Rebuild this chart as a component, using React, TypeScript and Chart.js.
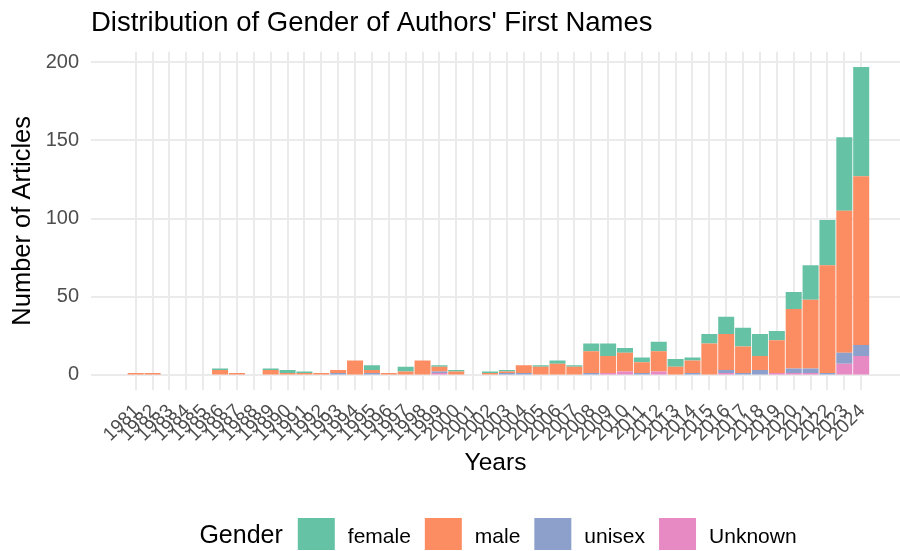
import React, { useEffect, useRef } from "react";
import { Chart, registerables } from "chart.js";

Chart.register(...registerables);

const FONT = "'Liberation Sans', Arial, sans-serif";

const years = [
  1981, 1982, 1983, 1984, 1985, 1986, 1987, 1988, 1989, 1990, 1991, 1992, 1993, 1994, 1995,
  1996, 1997, 1998, 1999, 2000, 2001, 2002, 2003, 2004, 2005, 2006, 2007, 2008, 2009, 2010,
  2011, 2012, 2013, 2014, 2015, 2016, 2017, 2018, 2019, 2020, 2021, 2022, 2023, 2024,
];
const female = [
  0, 0, 0, 0, 0, 1, 0, 0, 1, 2, 1, 0, 0, 0, 3,
  0, 3, 0, 1, 1, 0, 1, 1, 0, 1, 2, 1, 5, 8, 3,
  3, 6, 5, 2, 6, 11, 12, 14, 6, 11, 22, 29, 47, 70,
];
const male = [
  1, 1, 0, 0, 0, 3, 1, 0, 3, 1, 1, 1, 2, 9, 2,
  1, 2, 9, 3, 2, 0, 1, 1, 5, 5, 7, 5, 14, 11, 12,
  7, 13, 5, 8, 20, 23, 17, 9, 21, 38, 44, 69, 91, 108,
];
const unisex = [
  0, 0, 0, 0, 0, 0, 0, 0, 0, 0, 0, 0, 1, 0, 1,
  0, 0, 0, 1, 0, 0, 0, 1, 1, 0, 0, 0, 1, 0, 0,
  1, 0, 0, 1, 0, 2, 1, 3, 0, 3, 3, 1, 7, 7,
];
const unknown = [
  0, 0, 0, 0, 0, 0, 0, 0, 0, 0, 0, 0, 0, 0, 0,
  0, 0, 0, 1, 0, 0, 0, 0, 0, 0, 0, 0, 0, 1, 2,
  0, 2, 0, 0, 0, 1, 0, 0, 1, 1, 1, 0, 7, 12,
];
const yTicks = [0, 50, 100, 150, 200];

const chartTitle = "Distribution of Gender of Authors' First Names";
const xTitle = "Years";
const yTitle = "Number of Articles";
const legendTitle = "Gender";

const COLORS: Record<string, string> = {
  female: "#66C2A5",
  male: "#FC8D62",
  unisex: "#8DA0CB",
  Unknown: "#E78AC3",
};

const legendPlugin = {
  id: "ggLegend",
  afterDraw(chart: any) {
    const ctx = chart.ctx as CanvasRenderingContext2D;
    const items = chart.data.datasets.slice().reverse();
    ctx.save();
    ctx.font = `25px ${FONT}`;
    const titleW = ctx.measureText(legendTitle).width;
    ctx.font = `21px ${FONT}`;
    const widths = items.map((d: any) => ctx.measureText(d.label).width);
    const boxW = 37;
    const boxH = 32;
    const gapTitle = 15;
    const gapBox = 13;
    const gapItem = 14;
    let total = titleW + gapTitle;
    widths.forEach((w: number, i: number) => {
      total += boxW + gapBox + w + (i < widths.length - 1 ? gapItem : 0);
    });
    let x = 498 - total / 2;
    const boxTop = 518;
    ctx.textBaseline = "middle";
    ctx.textAlign = "left";
    ctx.fillStyle = "#000000";
    ctx.font = `25px ${FONT}`;
    ctx.fillText(legendTitle, x, 536.5);
    x += titleW + gapTitle;
    ctx.font = `21px ${FONT}`;
    items.forEach((d: any, i: number) => {
      ctx.fillStyle = d.backgroundColor;
      ctx.fillRect(x, boxTop, boxW, boxH);
      x += boxW + gapBox;
      ctx.fillStyle = "#000000";
      ctx.fillText(d.label, x, 537);
      x += widths[i] + gapItem;
    });
    ctx.restore();
  },
};

export default function App() {
  const ref = useRef<HTMLCanvasElement>(null);

  useEffect(() => {
    const canvas = ref.current;
    if (!canvas) return;
    const mk = (label: string, data: number[]) => ({
      label,
      data: data.map((v) => (v === 0 ? null : v)),
      backgroundColor: COLORS[label],
      borderWidth: 0,
      categoryPercentage: 1,
      barPercentage: 0.95,
    });
    const chart = new Chart(canvas, {
      type: "bar",
      data: {
        labels: years,
        datasets: [
          mk("Unknown", unknown),
          mk("unisex", unisex),
          mk("male", male),
          mk("female", female),
        ],
      },
      options: {
        responsive: false,
        animation: false,
        devicePixelRatio: 1,
        events: [],
        layout: { padding: { top: 0, left: 0, right: 0, bottom: 61 } },
        plugins: {
          legend: { display: false },
          tooltip: { enabled: false },
          title: {
            display: true,
            text: chartTitle,
            align: "start",
            fullSize: false,
            color: "#000000",
            font: { family: FONT, size: 27.5, weight: "normal" },
            padding: { top: 6.5, bottom: 12.2 },
          },
        },
        scales: {
          x: {
            type: "linear",
            stacked: true,
            offset: false,
            bounds: "data",
            min: 1978.35,
            max: 2026.3,
            afterBuildTicks: (s: any) => {
              s.ticks = years.map((v) => ({ value: v }));
            },
            afterFit: (s: any) => {
              s.height = 100;
            },
            grid: { color: "#EBEBEB", lineWidth: 2, drawTicks: false, offset: false },
            border: { display: false },
            ticks: {
              autoSkip: false,
              minRotation: 45,
              maxRotation: 45,
              padding: 10,
              labelOffset: 1,
              color: "#4D4D4D",
              font: { family: FONT, size: 19 },
              callback: (v: any) => String(v),
            },
            title: {
              display: true,
              text: xTitle,
              color: "#000000",
              font: { family: FONT, size: 24.5 },
              padding: { top: 0, bottom: 12 },
            },
          },
          y: {
            type: "linear",
            stacked: true,
            bounds: "data",
            min: -9.85,
            max: 206.85,
            afterBuildTicks: (s: any) => {
              // the zero tick is nudged by a negligible amount so Chart.js does not
              // shorten the bottom bar segments by half the gridline width
              s.ticks = yTicks.map((v) => ({ value: v === 0 ? 1e-7 : v }));
            },
            afterFit: (s: any) => {
              s.width = 91;
            },
            grid: { color: "#EBEBEB", lineWidth: 2, drawTicks: false },
            border: { display: false },
            ticks: {
              padding: 12,
              color: "#4D4D4D",
              font: { family: FONT, size: 20 },
              callback: (v: any) => String(Math.round(Number(v))),
            },
            title: {
              display: true,
              text: yTitle,
              color: "#000000",
              font: { family: FONT, size: 25.5 },
              padding: { top: 8, bottom: 0 },
            },
          },
        },
      },
      plugins: [legendPlugin],
    } as any);
    return () => chart.destroy();
  }, []);

  return (
    <div style={{ position: "absolute", left: 0, top: 0, width: 900, height: 551, background: "#ffffff" }}>
      <canvas ref={ref} width={900} height={551} style={{ display: "block" }} />
    </div>
  );
}
